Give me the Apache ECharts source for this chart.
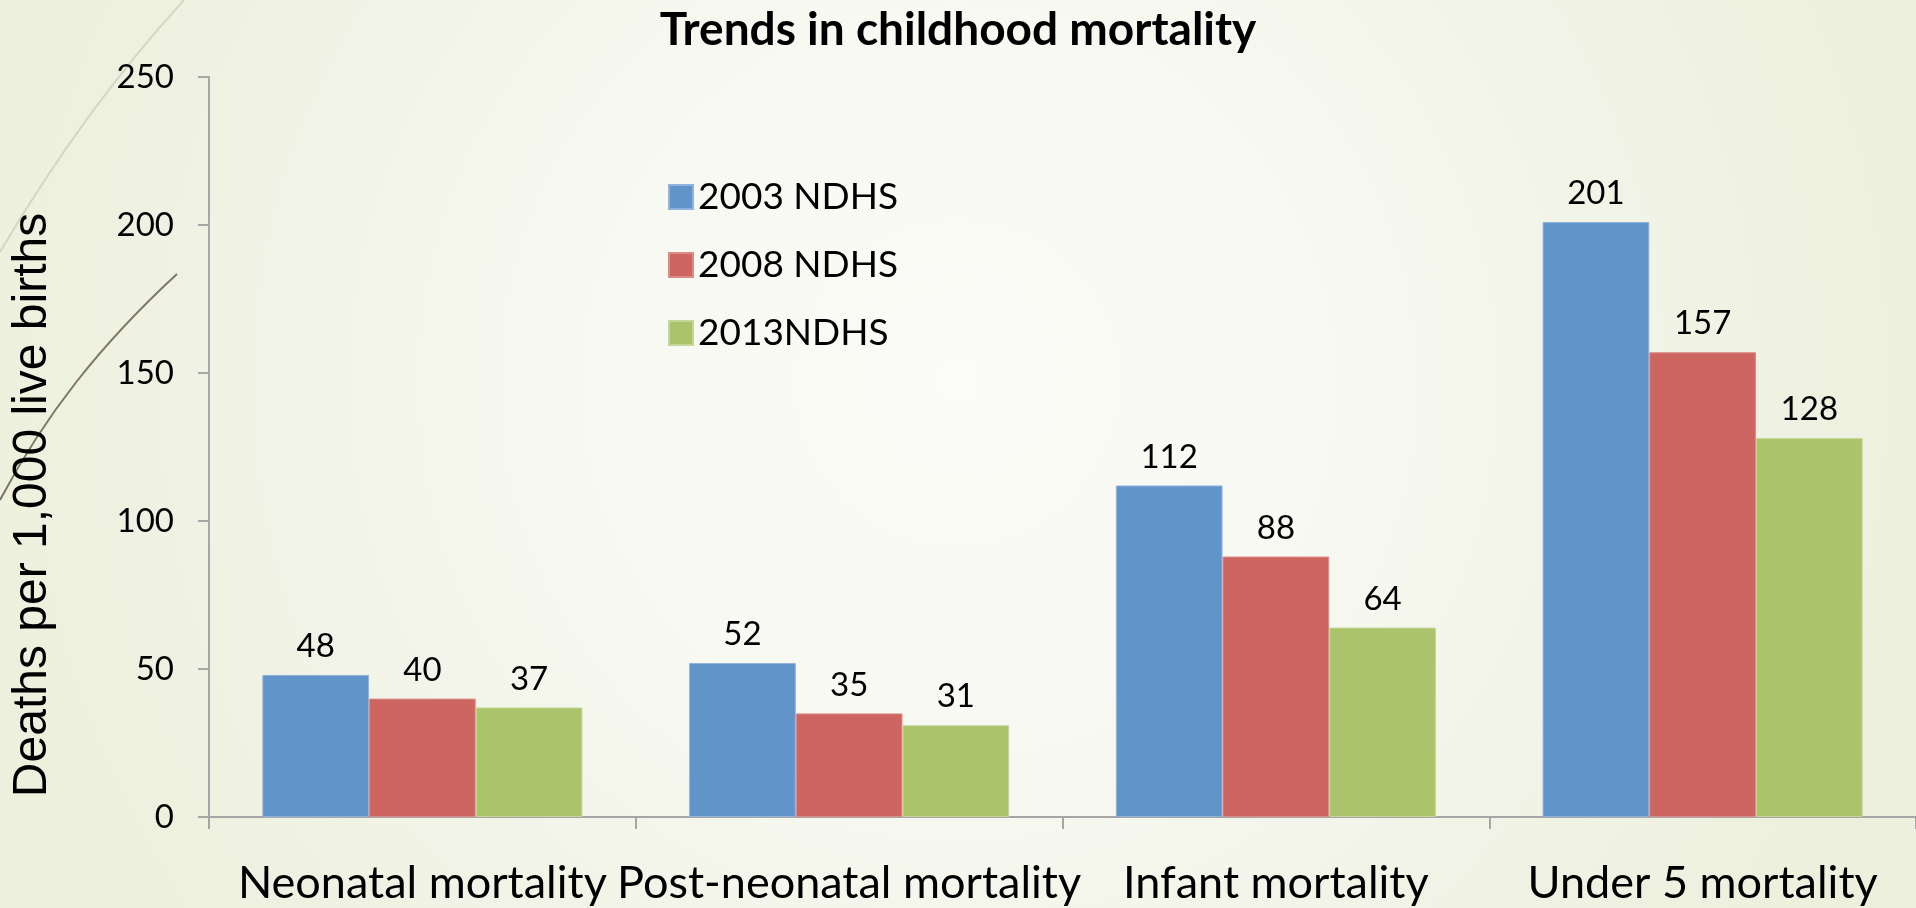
<!DOCTYPE html>
<html>
<head>
<meta charset="utf-8">
<script src="https://cdn.jsdelivr.net/npm/echarts@6/dist/echarts.min.js"></script>
<style>
  html, body { margin: 0; padding: 0; width: 1916px; height: 908px; overflow: hidden; }
  #chart { width: 1916px; height: 908px; }
</style>
</head>
<body>
<div id="chart"></div>
<script>
const categories = ['Neonatal mortality', 'Post-neonatal mortality', 'Infant mortality', 'Under 5 mortality'];
const seriesNames = ['2003 NDHS', '2008 NDHS', '2013NDHS'];
const values2003 = [48, 52, 112, 201];
const values2008 = [40, 35, 88, 157];
const values2013 = [37, 31, 64, 128];
const yTicks = [0, 50, 100, 150, 200, 250];

const colors = ['#6195CA', '#CD6661', '#ABC46B'];
const borders = ['#8fb3dc', '#dc8c88', '#c5d796'];
const seriesData = [values2003, values2008, values2013];

const chart = echarts.init(document.getElementById('chart'), null, { renderer: 'canvas' });

const option = {
  backgroundColor: {
    type: 'radial', x: 0.5, y: 0.42, r: 1.1,
    colorStops: [
      { offset: 0, color: '#fbfbf7' },
      { offset: 0.35, color: '#f8f9f2' },
      { offset: 0.7, color: '#f1f3e6' },
      { offset: 1, color: '#ecf0dc' }
    ]
  },
  animation: false,
  title: {
    text: 'Trends in childhood mortality',
    left: 'center',
    top: 2,
    textStyle: { fontFamily: 'Lato', fontWeight: 'bold', fontSize: 46, color: '#000' }
  },
  legend: {
    orient: 'vertical',
    left: 663,
    top: 170,
    itemWidth: 24,
    itemHeight: 24,
    itemGap: 24,
    icon: 'rect',
    textStyle: { fontFamily: 'Lato', fontSize: 37, color: '#000', lineHeight: 44, padding: [0, 0, 0, 0] },
    data: seriesNames
  },
  grid: { left: 209, top: 77, width: 1711, bottom: 91, containLabel: false },
  xAxis: {
    type: 'category',
    data: categories,
    axisLine: { lineStyle: { color: '#a6a6a6', width: 2 } },
    axisTick: { show: true, length: 12, lineStyle: { color: '#a6a6a6', width: 2 } },
    axisLabel: { interval: 0, fontFamily: 'Lato', fontSize: 45, color: '#000', margin: 44 }
  },
  yAxis: {
    type: 'value',
    min: yTicks[0],
    max: yTicks[yTicks.length - 1],
    interval: 50,
    name: 'Deaths per 1,000 live births',
    nameLocation: 'middle',
    nameGap: 152,
    nameTextStyle: { fontFamily: 'Liberation Sans', fontSize: 48, color: '#000', padding: [0, 116, 0, 0] },
    axisLine: { show: true, lineStyle: { color: '#a6a6a6', width: 2 } },
    axisTick: { show: true, length: 11, lineStyle: { color: '#a6a6a6', width: 2 } },
    splitLine: { show: false },
    axisLabel: { fontFamily: 'Lato', fontSize: 33, color: '#000', margin: 35 }
  },
  graphic: [
    { type: 'bezierCurve', silent: true, z: 0,
      shape: { x1: 184, y1: 0, cpx1: 120, cpy1: 70, cpx2: 60, cpy2: 150, x2: 0, y2: 252 },
      style: { stroke: '#d5d7c3', lineWidth: 2, fill: null } },
    { type: 'bezierCurve', silent: true, z: 0,
      shape: { x1: 177, y1: 274, cpx1: 100, cpy1: 345, cpx2: 45, cpy2: 415, x2: 0, y2: 500 },
      style: { stroke: '#7f7663', lineWidth: 2, fill: null } }
  ],
  series: seriesNames.map((name, i) => ({
    name: name,
    type: 'bar',
    data: seriesData[i],
    barGap: '0%',
    barCategoryGap: '25%',
    itemStyle: { color: colors[i], borderColor: borders[i], borderWidth: 1 },
    label: {
      show: true, position: 'top', distance: 12,
      fontFamily: 'Lato', fontSize: 33, color: '#000'
    }
  }))
};

chart.setOption(option);
</script>
</body>
</html>
